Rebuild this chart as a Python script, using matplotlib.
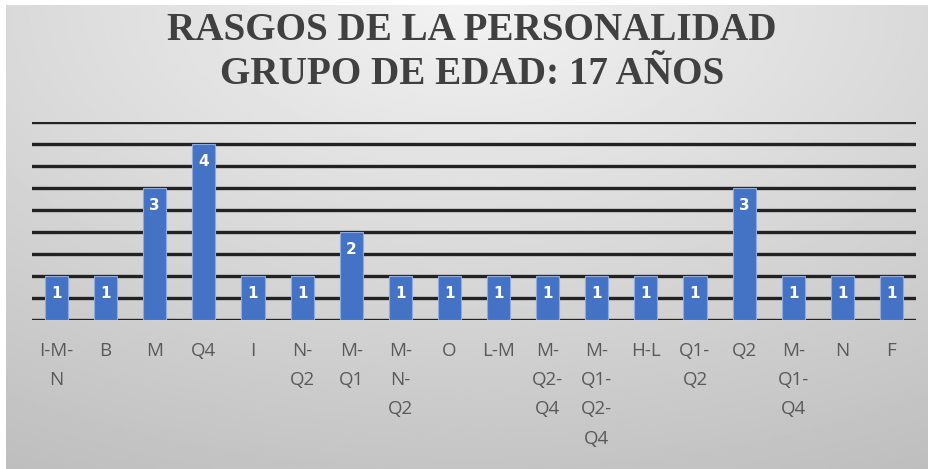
import numpy as np
import matplotlib
matplotlib.use("Agg")
import matplotlib.pyplot as plt

# ---- data ----
tick_labels = ["I-M-\nN", "B", "M", "Q4", "I", "N-\nQ2", "M-\nQ1", "M-\nN-\nQ2", "O",
               "L-M", "M-\nQ2-\nQ4", "M-\nQ1-\nQ2-\nQ4", "H-L", "Q1-\nQ2", "Q2",
               "M-\nQ1-\nQ4", "N", "F"]
values = [1, 1, 3, 4, 1, 1, 2, 1, 1, 1, 1, 1, 1, 1, 3, 1, 1, 1]
title_line1 = "RASGOS DE LA PERSONALIDAD"
title_line2 = "GRUPO DE EDAD: 17 AÑOS"

W, H = 929, 469
fig = plt.figure(figsize=(W / 100, H / 100), dpi=100)
fig.patch.set_facecolor("white")

# background gradient panel
bg = fig.add_axes([6 / W, 0, 1 - 6 / W, 1 - 5 / H])
yy, xx = np.mgrid[0:1:200j, 0:1:400j]
d = np.sqrt(((xx - 0.5) * 1.1) ** 2 + (yy * 1.0) ** 2)
shade = 0.95 - 0.18 * np.clip(d, 0, 1.2)
bg.imshow(shade, cmap="gray", vmin=0, vmax=1, aspect="auto",
          extent=[0, 1, 0, 1], origin="upper")
bg.set_axis_off()

ax = fig.add_axes([32 / W, 1 - 320 / H, (916 - 32) / W, (320 - 121.7) / H])
ax.set_facecolor("none")
x = np.arange(len(values))
ax.set_xlim(-0.5, len(values) - 0.5)
ax.set_ylim(0, 4.5)
ax.set_yticks(np.arange(0, 4.51, 0.5))
ax.yaxis.grid(True, color="#222222", linewidth=2.4)
ax.set_axisbelow(True)
ax.tick_params(axis="y", left=False, labelleft=False)
ax.tick_params(axis="x", bottom=False, pad=12, labelsize=13.5, labelcolor="#595959")
for s in ax.spines.values():
    s.set_visible(False)

bars = ax.bar(x, values, width=0.47, color="#4472C4", edgecolor="#8FAADC",
              linewidth=0.8, zorder=3)
ax.set_xticks(x)
ax.set_xticklabels(tick_labels, family="Open Sans", linespacing=1.82)

for xi, v in zip(x, values):
    ax.annotate(str(v), (xi, v), xytext=(0, -18), textcoords="offset pixels",
                ha="center", va="center", color="white", fontsize=11,
                fontweight="bold", zorder=4)

fig.text(0.508, 1 - 31 / H, title_line1, ha="center", va="center",
         family="Liberation Serif", fontweight="bold", fontsize=28.2, color="#404040")
fig.text(0.508, 1 - 74 / H, title_line2, ha="center", va="center",
         family="Liberation Serif", fontweight="bold", fontsize=28.2, color="#404040")

fig.savefig("out.png", dpi=100)
